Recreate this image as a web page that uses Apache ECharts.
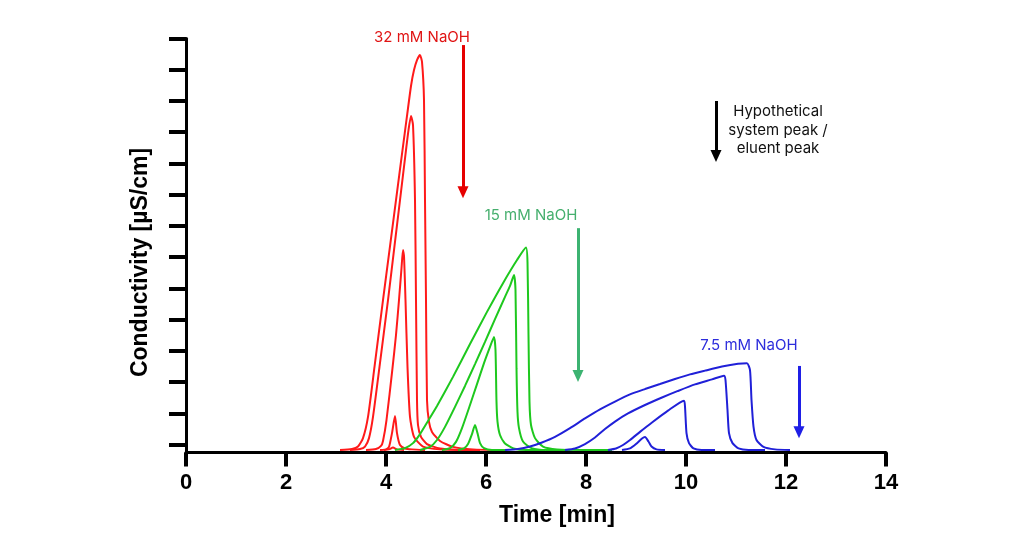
<!DOCTYPE html>
<html>
<head>
<meta charset="utf-8">
<script src="https://cdn.jsdelivr.net/npm/echarts@6/dist/echarts.min.js"></script>
<style>html,body{margin:0;padding:0;background:#fff}#c{width:1024px;height:537px}</style>
</head>
<body>
<div id="c"></div>
<script>
// ---- axes ----
const xMin = 0, xMax = 14, xStep = 2;
const yMin = 0, yMax = 13.25;
const yTickValues = [0.25,1.25,2.25,3.25,4.25,5.25,6.25,7.25,8.25,9.25,10.25,11.25,12.25,13.25];

// ---- 32 mM NaOH (red) ----
const red1 = [[3.08,0.08],[3.32,0.11],[3.44,0.19],[3.54,0.46],[3.64,1.14],[3.77,2.74],[3.94,4.88],[4.07,6.48],[4.2,8.08],[4.33,9.68],[4.42,10.77],[4.5,11.73],[4.56,12.24],[4.62,12.56],[4.68,12.72],[4.72,12.5],[4.76,11.28],[4.78,8.08],[4.80,4.88],[4.82,1.68],[4.86,0.98],[4.92,0.66],[5.08,0.37],[5.34,0.18],[5.74,0.1],[6.28,0.08]];
const red2 = [[3.28,0.08],[3.48,0.11],[3.58,0.19],[3.66,0.46],[3.74,1.14],[3.87,2.74],[4.04,4.88],[4.16,6.48],[4.28,8.08],[4.4,9.68],[4.45,10.32],[4.5,10.77],[4.54,10.48],[4.58,8.08],[4.6,4.88],[4.62,1.68],[4.64,0.88],[4.7,0.5],[4.82,0.27],[5.08,0.13],[5.42,0.09],[5.88,0.08]];
const red3 = [[3.6,0.08],[3.8,0.11],[3.9,0.21],[3.94,0.37],[4.01,1.04],[4.13,2.7],[4.2,3.76],[4.26,4.88],[4.31,5.9],[4.34,6.48],[4.36,6.29],[4.39,4.88],[4.43,2.74],[4.48,1.14],[4.56,0.5],[4.74,0.19],[5.08,0.1],[5.58,0.08]];
const red4 = [[3.88,0.08],[4.0,0.1],[4.06,0.18],[4.12,0.62],[4.18,1.17],[4.22,0.62],[4.28,0.24],[4.38,0.13],[4.52,0.1],[4.78,0.08]];
const red5 = [[3.96,0.08],[4.06,0.1],[4.14,0.16],[4.22,0.1],[4.36,0.08]];

// ---- 15 mM NaOH (green) ----
const green1 = [[4.18,0.08],[4.38,0.14],[4.54,0.3],[4.68,0.59],[4.84,1.01],[5.02,1.49],[5.34,2.42],[5.68,3.47],[6.02,4.5],[6.34,5.42],[6.62,6.16],[6.8,6.56],[6.83,6.1],[6.85,3.76],[6.87,1.62],[6.9,0.88],[6.98,0.46],[7.14,0.19],[7.42,0.1],[7.98,0.08],[8.52,0.08]];
const green2 = [[4.68,0.08],[4.88,0.18],[5.02,0.4],[5.18,0.82],[5.38,1.46],[5.58,2.13],[5.78,2.83],[5.98,3.54],[6.18,4.27],[6.38,4.98],[6.48,5.33],[6.56,5.68],[6.59,5.2],[6.61,2.7],[6.63,1.3],[6.66,0.78],[6.74,0.35],[6.91,0.14],[7.21,0.08],[7.68,0.08]];
const green3 = [[5.12,0.08],[5.28,0.14],[5.4,0.34],[5.52,0.78],[5.68,1.52],[5.82,2.19],[5.96,2.86],[6.08,3.38],[6.16,3.7],[6.19,3.28],[6.21,1.62],[6.23,0.99],[6.28,0.56],[6.38,0.29],[6.55,0.13],[6.81,0.08],[7.18,0.08]];
const green4 = [[5.44,0.08],[5.56,0.13],[5.64,0.27],[5.72,0.59],[5.78,0.88],[5.83,0.62],[5.88,0.3],[5.96,0.14],[6.12,0.08],[6.38,0.08]];

// ---- 7.5 mM NaOH (blue) ----
const blue1 = [[6.38,0.08],[6.64,0.11],[6.88,0.19],[7.12,0.32],[7.38,0.5],[7.68,0.78],[7.98,1.09],[8.28,1.38],[8.58,1.63],[8.88,1.86],[9.18,2.03],[9.48,2.19],[9.78,2.35],[10.08,2.5],[10.38,2.62],[10.72,2.75],[11.04,2.84],[11.22,2.86],[11.28,2.64],[11.31,1.68],[11.35,0.83],[11.41,0.4],[11.55,0.18],[11.78,0.1],[12.08,0.08]];
const blue2 = [[7.58,0.08],[7.78,0.13],[7.98,0.27],[8.18,0.48],[8.38,0.75],[8.58,0.99],[8.84,1.25],[9.18,1.52],[9.52,1.76],[9.84,1.97],[10.18,2.18],[10.52,2.34],[10.76,2.46],[10.79,2.32],[10.83,1.36],[10.86,0.62],[10.93,0.3],[11.05,0.13],[11.25,0.08],[11.58,0.08]];
const blue3 = [[8.44,0.08],[8.6,0.13],[8.74,0.24],[8.88,0.4],[9.08,0.66],[9.32,0.96],[9.64,1.34],[9.96,1.66],[9.98,1.47],[10.01,0.62],[10.06,0.3],[10.15,0.13],[10.31,0.08],[10.58,0.08]];
const blue4 = [[8.72,0.08],[8.88,0.13],[9.0,0.27],[9.12,0.45],[9.18,0.5],[9.25,0.35],[9.31,0.19],[9.41,0.1],[9.58,0.08]];

// ---- annotations (data coordinates) ----
const labelTexts = ['32 mM NaOH', '15 mM NaOH', '7.5 mM NaOH', 'Hypothetical\nsystem peak /\neluent peak'];
const labelCoords = [[4.72,13.0],[6.9,7.6],[11.26,3.41],[11.84,10.32]];
const labelShift = [-9, 0, 0, 0];
const arrowCoords = [ [[5.54,13.04],[5.54,8.33]], [[7.84,7.18],[7.84,2.45]], [[12.26,2.77],[12.26,0.65]], [[10.6,11.25],[10.6,9.49]] ];

const RED = '#ff1a1a', GREEN = '#1ec81e', BLUE = '#2020d8';
const annColors = ['#e60000', '#3cb371', '#1f1fe6', '#000000'];
const annText = ['#e01414', '#46af6e', '#2d2ddc', '#111111'];

function curve(data, color) {
  return { type: 'line', data: data, symbol: 'none', showSymbol: false, smooth: 0.2,
    clip: false, silent: true, lineStyle: { color: color, width: 2 } };
}

const series = [];
[red1, red2, red3, red4, red5].forEach(d => series.push(curve(d, RED)));
[green1, green2, green3, green4].forEach(d => series.push(curve(d, GREEN)));
[blue1, blue2, blue3, blue4].forEach(d => series.push(curve(d, BLUE)));

labelTexts.forEach((txt, i) => {
  series.push({
    type: 'line', data: [], clip: false, silent: true,
    markLine: {
      silent: true, animation: false,
      symbol: ['none', 'triangle'], symbolSize: [11, 12],
      label: { show: false },
      lineStyle: { color: annColors[i], width: 3, type: 'solid' },
      itemStyle: { color: annColors[i] },
      emphasis: { disabled: true },
      data: [[{ coord: arrowCoords[i][0] }, { coord: arrowCoords[i][1] }]]
    },
    markPoint: {
      silent: true, animation: false,
      symbol: 'circle', symbolSize: 0,
      label: { show: true, position: 'inside', formatter: '{b}', color: annText[i], offset: [0, labelShift[i]],
        fontFamily: 'Inter, "Noto Sans", sans-serif', fontSize: 15, lineHeight: 18.5, align: 'center' },
      data: [{ name: txt, coord: labelCoords[i] }]
    }
  });
});

const chart = echarts.init(document.getElementById('c'));
chart.setOption({
  animation: false,
  backgroundColor: '#fff',
  grid: { left: 186, right: 138, top: 38.5, bottom: 84.5, containLabel: false },
  xAxis: {
    type: 'value', min: xMin, max: xMax, interval: xStep,
    name: 'Time [min]', nameLocation: 'middle', nameGap: 52,
    nameTextStyle: { fontFamily: '"Liberation Sans", Arial, sans-serif', fontWeight: 'bold', fontSize: 23, color: '#000', padding: [0, 0, 0, 42] },
    axisLine: { show: true, onZero: false, lineStyle: { color: '#000', width: 3 } },
    axisTick: { show: true, inside: false, length: 14, lineStyle: { color: '#000', width: 4 } },
    axisLabel: { fontFamily: '"Liberation Sans", Arial, sans-serif', fontWeight: 'bold', fontSize: 22, color: '#000', margin: 19 },
    splitLine: { show: false }
  },
  yAxis: {
    type: 'value', min: yMin, max: yMax,
    name: 'Conductivity [µS/cm]', nameLocation: 'middle', nameGap: 34, nameRotate: 90,
    nameTextStyle: { fontFamily: '"Liberation Sans", Arial, sans-serif', fontWeight: 'bold', fontSize: 23, color: '#000', padding: [0, 34, 0, 0] },
    axisLine: { show: true, onZero: false, lineStyle: { color: '#000', width: 3 } },
    axisTick: { show: true, inside: false, length: 17, customValues: yTickValues, lineStyle: { color: '#000', width: 4 } },
    axisLabel: { show: false },
    splitLine: { show: false }
  },
  series: series
});
</script>
</body>
</html>
